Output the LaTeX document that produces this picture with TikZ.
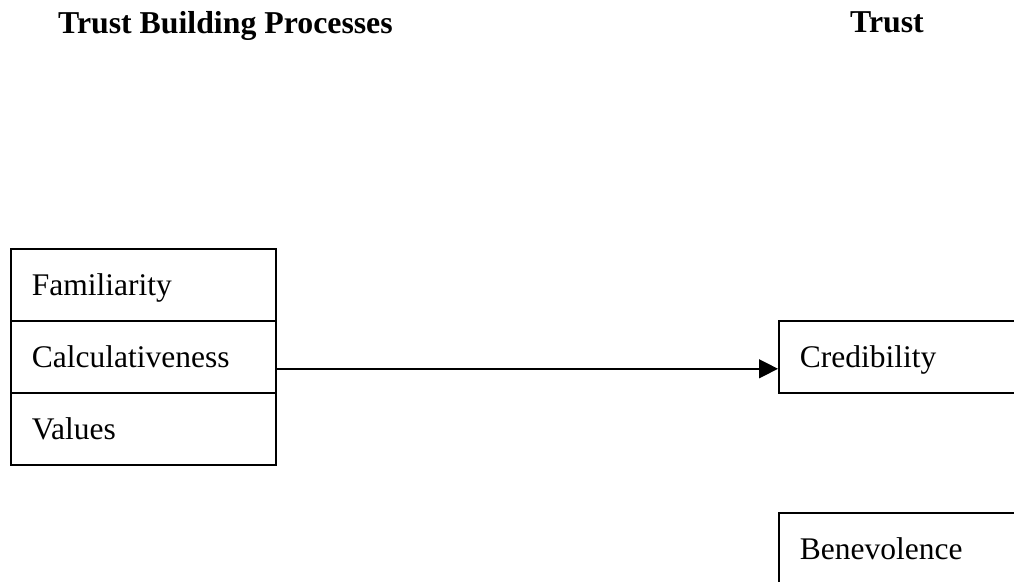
\documentclass[tikz,border=0pt]{standalone}
\usepackage{fontspec}
\setmainfont{Liberation Serif}
\usetikzlibrary{arrows.meta}
\begin{document}
\begin{tikzpicture}[x=1pt,y=-1pt,
  every node/.style={font=\fontsize{31.5}{36}\selectfont},
  title/.style={font=\fontsize{31.8}{36}\selectfont\bfseries, anchor=base west, inner sep=0pt},
  rowbox/.style={draw, line width=1.6pt, rectangle, minimum width=265pt, minimum height=72pt,
     text width=223pt, align=left, inner xsep=21pt, inner ysep=0pt, text height=24pt, text depth=2pt, anchor=north west},
  trustbox/.style={rowbox, minimum width=260pt, text width=218pt},
  link/.style={line width=1.4pt, -{Triangle[length=19pt,width=19pt]}}
]
\useasboundingbox (0,0) rectangle (1014,581);
\node[title] (t1) at (58,33) {Trust Building Processes};
\node[title] (t2) at (850,32) {Trust};
\node[rowbox] (fam) at (10,248) {Familiarity};
\node[rowbox] (calc) at (10,320) {Calculativeness};
\node[rowbox] (val) at (10,392) {Values};
\node[trustbox] (cred) at (778,320) {Credibility};
\node[trustbox] (bene) at (778,512) {Benevolence};
\draw[link] ([yshift=-12pt]calc.east) -- ([yshift=-12pt]cred.west);
\end{tikzpicture}
\end{document}
